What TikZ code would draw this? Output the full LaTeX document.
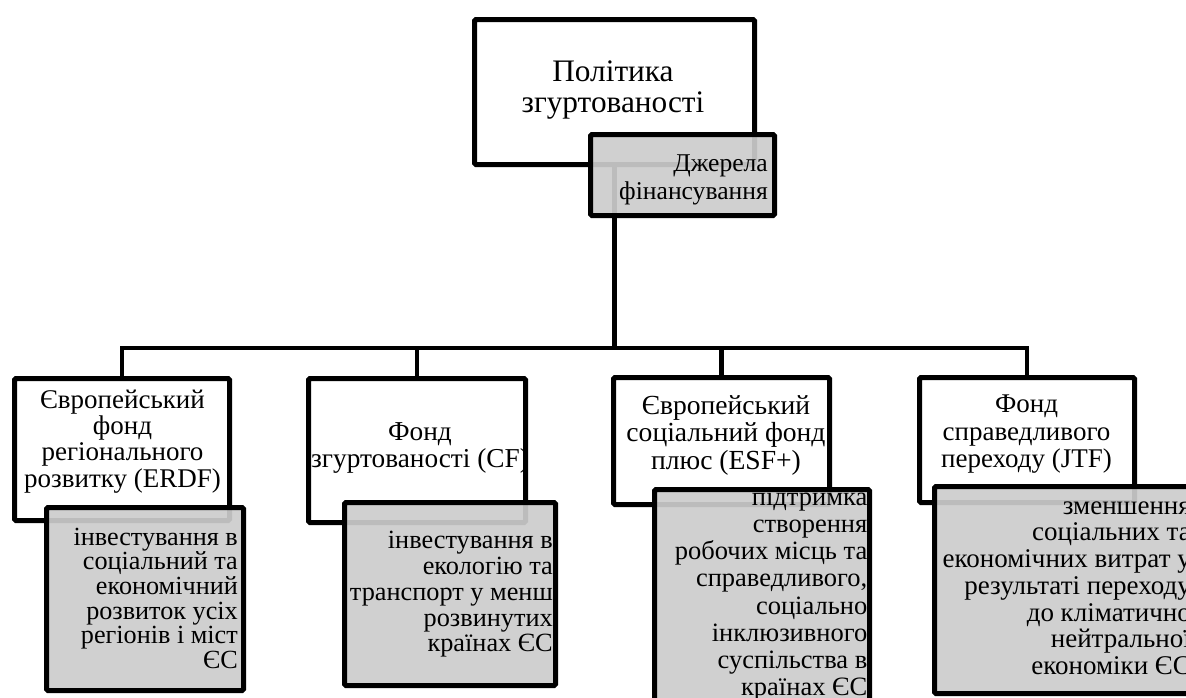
\documentclass[tikz,border=0pt]{standalone}
\usepackage{fontspec}
\setmainfont{Liberation Serif}
\newcommand\fsz[2]{\fontsize{#1}{#2}\selectfont\lineskiplimit=-100pt\relax}
\newcommand\tstrut{\rule{0pt}{0.8em}}
\begin{document}
\begin{tikzpicture}[x=1pt,y=-1pt,
  wbox/.style={draw=black,line width=5pt,fill=white,rounded corners=1.5pt,inner sep=0pt,anchor=center},
  gbox/.style={draw=black,line width=5pt,fill=black!20,fill opacity=0.92,rounded corners=1.5pt,inner sep=0pt,anchor=center},
  ctext/.style={inner sep=0pt,align=center,anchor=north},
  rtext/.style={inner sep=0pt,align=right,anchor=north east},
  conn/.style={draw=black,line width=4.5pt}]
\useasboundingbox (0,0) rectangle (1186,697);
\clip (0,0) rectangle (1186,697);
\fill[white] (0,0) rectangle (1186,697);
\coordinate (bus) at (0,348);
% boxes of the upper level
\node[wbox,minimum width=280pt,minimum height=145pt] (top) at (614.5,92) {};
\node[wbox,minimum width=215pt,minimum height=142pt] (erdf) at (122,449.5) {};
\node[wbox,minimum width=217pt,minimum height=144pt] (cf) at (417,450.5) {};
\node[wbox,minimum width=216pt,minimum height=127pt] (esf) at (721.5,441) {};
\node[wbox,minimum width=215pt,minimum height=125pt] (jtf) at (1027,440) {};
% connectors
\draw[conn] (top.south) -- (top.south |- bus) -| (erdf.north);
\draw[conn] (top.south |- bus) -| (cf.north);
\draw[conn] (top.south |- bus) -| (esf.north);
\draw[conn] (top.south |- bus) -| (jtf.north);
% texts of white boxes
\node[ctext,font=\fsz{31.3}{31}] (toptext) at (613,{81-0.8*31.3}) {\tstrut Політика\\згуртованості};
\node[ctext,font=\fsz{27}{26.3}] (erdftext) at (122.5,{408-0.8*27}) {\tstrut Європейський\\фонд\\регіонального\\розвитку (ERDF)};
\node[ctext,font=\fsz{27.3}{27}] (cftext) at (420,{440-0.8*27.3}) {\tstrut Фонд\\згуртованості (CF)};
\node[ctext,font=\fsz{27.6}{27.5}] (esftext) at (726,{414-0.8*27.6}) {\tstrut Європейський\\соціальний фонд\\плюс (ESF+)};
\node[ctext,font=\fsz{27}{27.5}] (jtftext) at (1026.5,{412.5-0.8*27}) {\tstrut Фонд\\справедливого\\переходу (JTF)};
% gray boxes
\node[gbox,minimum width=184pt,minimum height=81pt] (src) at (682.5,175) {};
\node[gbox,minimum width=197pt,minimum height=183pt] (g1) at (145,599) {};
\node[gbox,minimum width=211pt,minimum height=183pt] (g2) at (450,594) {};
\node[gbox,minimum width=215pt,minimum height=233pt] (g3) at (762,606) {};
\node[gbox,minimum width=263pt,minimum height=207pt] (g4) at (1066,590) {};
% texts of gray boxes
\node[rtext,font=\fsz{25.6}{28}] (srctext) at (768,{171-0.8*25.6}) {\tstrut Джерела\\фінансування};
\node[rtext,font=\fsz{26.2}{24.6}] (g1text) at (238,{545-0.8*26.2}) {\tstrut інвестування в\\соціальний та\\економічний\\розвиток усіх\\регіонів і міст\\ЄС};
\node[rtext,font=\fsz{26.3}{25.8}] (g2text) at (553,{548.5-0.8*26.3}) {\tstrut інвестування в\\екологію та\\транспорт у менш\\розвинутих\\країнах ЄС};
\node[rtext,font=\fsz{26.5}{27.2}] (g3text) at (867.5,{505-0.8*26.5}) {\tstrut підтримка\\створення\\робочих місць та\\справедливого,\\соціально\\інклюзивного\\суспільства в\\країнах ЄС};
\node[rtext,font=\fsz{27}{26.7}] (g4text) at (1191,{514-0.8*27}) {\tstrut зменшення\\соціальних та\\економічних витрат у\\результаті переходу\\до кліматично\\нейтральної\\економіки ЄС};
\end{tikzpicture}
\end{document}
